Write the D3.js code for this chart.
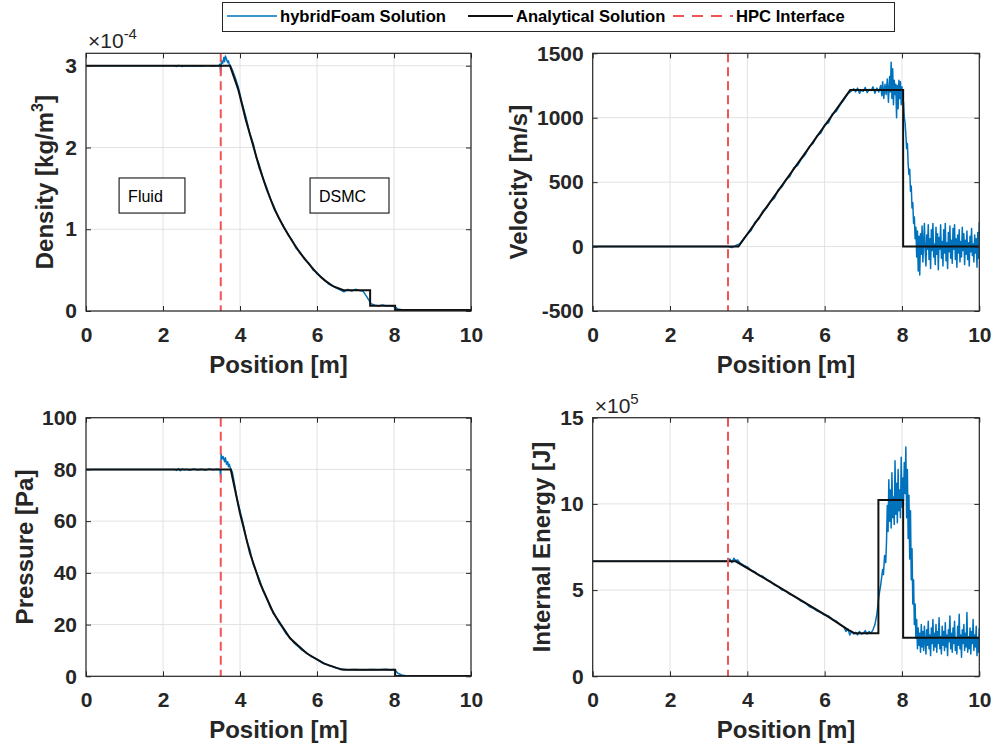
<!DOCTYPE html>
<html lang="en">
<head>
<meta charset="utf-8">
<title>Shock tube: hybridFoam vs analytical</title>
<script src="https://d3js.org/d3.v7.min.js"></script>
<style>
body { margin: 0; background: #fff; }
svg text { font-family: "Liberation Sans", Arial, Helvetica, sans-serif; fill: #262626; }
.tick text { font-size: 21px; font-weight: bold; fill: #262626; }
.tick line { stroke: #262626; }
.axis-label { font-size: 24px; font-weight: bold; }
.expo { font-size: 21px; }
.legend text { font-size: 16.6px; font-weight: bold; fill: #000; }
.note text { font-size: 16px; fill: #000; }
</style>
</head>
<body>
<script>
// x axis (shared)
var positionTicks = [0, 2, 4, 6, 8, 10];
var interfaceX = 3.5;

// density, units of 1e-4 kg/m^3
var densityTicks = [0, 1, 2, 3];
var densityAnalytical = [[0,3.0],[3.74,3.0],[3.96,2.70],[4.15,2.34],[4.35,2.01],[4.5,1.76],[4.7,1.48],[4.9,1.24],[5.13,1.03],[5.35,0.86],[5.56,0.71],[5.8,0.57],[6.0,0.46],[6.2,0.375],[6.43,0.30],[6.69,0.255],[7.38,0.255],[7.38,0.065],[8.03,0.065],[8.03,0.012],[10,0.012]];
var densityHybrid = [[0,3.0],[2.3,3.0],[2.35,2.99],[2.4,3.005],[2.45,2.995],[2.5,2.99],[2.55,3.0],[2.6,2.995],[2.7,3.0],[2.8,2.993],[2.9,3.0],[3.0,2.995],[3.1,3.0],[3.2,3.0],[3.3,2.995],[3.4,3.0],[3.45,3.0],[3.48,3.02],[3.5,2.9],[3.52,3.06],[3.55,3.03],[3.58,3.1],[3.6,3.05],[3.62,3.12],[3.65,3.08],[3.68,3.04],[3.7,3.06],[3.72,3.02],[3.75,3.0],[3.8,2.95],[3.88,2.85],[3.96,2.73],[4.05,2.55],[4.15,2.38],[4.25,2.18],[4.35,2.04],[4.42,1.88],[4.5,1.79],[4.6,1.62],[4.7,1.50],[4.8,1.36],[4.9,1.26],[5.0,1.14],[5.13,1.04],[5.25,0.93],[5.35,0.87],[5.45,0.77],[5.56,0.72],[5.68,0.63],[5.8,0.58],[5.9,0.50],[6.0,0.47],[6.1,0.41],[6.2,0.38],[6.3,0.33],[6.43,0.30],[6.5,0.28],[6.6,0.26],[6.7,0.235],[6.8,0.265],[6.9,0.245],[7.0,0.265],[7.1,0.25],[7.2,0.24],[7.3,0.17],[7.4,0.09],[7.5,0.07],[7.6,0.062],[7.7,0.074],[7.8,0.061],[7.9,0.06],[8.0,0.055],[8.05,0.04],[8.1,0.025],[8.2,0.015],[8.3,0.012],[9,0.012],[10,0.012]];

// velocity, m/s
var velocityTicks = [-500, 0, 500, 1000, 1500];
var velocityAnalytical = [[0,0],[3.77,0],[6.66,1215],[8.03,1215],[8.03,0],[10,0]];
var velocityHybrid = [[0,0],[3.5,0],[3.6,-8],[3.7,8],[3.8,20],[3.9,60],[4.0,95],[4.1,125],[4.2,190],[4.3,215],[4.4,275],[4.5,300],[4.6,350],[4.7,375],[4.8,440],[4.9,465],[5.0,520],[5.1,545],[5.2,610],[5.3,630],[5.4,680],[5.5,715],[5.6,775],[5.7,800],[5.8,860],[5.9,880],[6.0,945],[6.1,960],[6.2,1030],[6.3,1050],[6.4,1100],[6.5,1140],[6.6,1185],[6.7,1210],
[6.75,1225],[6.8,1200],[6.85,1230],[6.9,1190],[6.95,1215],[7.0,1205],[7.05,1235],[7.1,1195],[7.15,1220],[7.2,1210],[7.25,1240],[7.3,1190],[7.35,1230],[7.4,1200],[7.45,1250],[7.48,1170],[7.5,1280],[7.53,1150],[7.56,1260],[7.59,1180],[7.62,1300],[7.65,1120],[7.68,1320],[7.7,1200],[7.72,1430],[7.74,1150],[7.76,1380],[7.78,1100],[7.8,1290],[7.82,1180],[7.84,1260],[7.86,1000],[7.88,1250],[7.9,1070],[7.92,1290],[7.94,1150],[7.96,1280],[7.98,1100],[8.0,1240],[8.02,1150],
[8.04,1120],[8.06,1000],[8.08,960],[8.1,870],[8.12,760],[8.14,800],[8.16,640],[8.18,560],[8.2,600],[8.22,430],[8.24,470],[8.26,300],[8.28,340],[8.3,180],[8.32,230],[8.34,60],[8.36,150],[8.38,-80],[8.4,120],[8.42,-190],[8.44,80],[8.46,-220],[8.48,100],[8.5,-60],[8.52,160],[8.54,-120],[8.56,40],[8.58,180],[8.6,-40],
[8.62,-150],[8.64,90],[8.66,-20],[8.68,170],[8.7,-100],[8.72,60],[8.74,-170],[8.76,130],[8.78,-30],[8.8,180],[8.82,-80],[8.84,20],[8.86,-140],[8.88,150],[8.9,-60],[8.92,100],[8.94,-180],[8.96,70],[8.98,-20],[9.0,170],[9.02,-90],[9.04,40],[9.06,-150],[9.08,130],[9.1,-50],[9.12,180],[9.14,-110],[9.16,30],[9.18,-170],[9.2,110],[9.22,-40],[9.24,160],[9.26,-90],[9.28,50],[9.3,-130],[9.32,140],[9.34,-20],[9.36,170],[9.38,-100],[9.4,60],[9.42,-160],[9.44,90],[9.46,-50],[9.48,130],[9.5,-120],[9.52,40],[9.54,-80],[9.56,150],[9.58,-30],[9.6,100],[9.62,-140],[9.64,50],[9.66,-60],[9.68,120],[9.7,-100],[9.72,30],[9.74,-150],[9.76,80],[9.78,-40],[9.8,140],[9.82,-70],[9.84,20],[9.86,-120],[9.88,90],[9.9,-50],[9.92,60],[9.94,-160],[9.96,110],[9.98,-90],[10.0,190]];

// pressure, Pa
var pressureTicks = [0, 20, 40, 60, 80, 100];
var pressureAnalytical = [[0,80],[3.76,80],[4.0,63],[4.26,47.6],[4.52,36],[4.87,24.4],[5.3,14.7],[5.73,8.9],[6.17,5.0],[6.64,2.6],[6.7,2.5],[8.03,2.5],[8.03,0.1],[10,0.1]];
var pressureHybrid = [[0,80],[2.3,80],[2.35,79.6],[2.4,80.3],[2.45,79.5],[2.5,80.2],[2.55,79.8],[2.6,80.1],[2.7,79.7],[2.8,80.2],[2.9,79.8],[3.0,80.1],[3.1,79.7],[3.2,80.2],[3.3,79.9],[3.4,80.1],[3.48,80],[3.5,76.5],[3.51,86],[3.53,84],[3.56,85],[3.6,83],[3.62,84.5],[3.65,82],[3.68,83],[3.7,81],[3.72,82],[3.75,80.5],[3.8,79],[3.85,75],[3.92,69],[4.0,64],[4.1,58],[4.18,52],[4.26,48.8],[4.34,43.5],[4.42,40.5],[4.52,36.8],[4.6,33],[4.7,29.8],[4.8,26.2],[4.87,24.8],[5.0,21],[5.1,18.8],[5.2,16.4],[5.3,15.0],[5.4,12.9],[5.5,11.7],[5.6,10.2],[5.73,9.1],[5.85,7.6],[6.0,6.6],[6.17,5.2],[6.3,4.2],[6.4,3.8],[6.5,3.2],[6.64,2.8],[6.8,2.5],[7,2.6],[7.2,2.4],[7.4,2.6],[7.6,2.5],[7.8,2.7],[7.9,2.4],[8.0,2.6],[8.05,2.0],[8.1,1.2],[8.2,0.5],[8.3,0.2],[8.4,0.1],[10,0.1]];

// internal energy, units of 1e5 J
var energyTicks = [0, 5, 10, 15];
var energyAnalytical = [[0,6.67],[3.70,6.67],[4.37,5.78],[5.23,4.62],[6.09,3.46],[6.61,2.69],[6.78,2.49],[7.39,2.49],[7.39,10.23],[8.03,10.23],[8.03,2.24],[10,2.24]];
var energyHybrid = [[0,6.67],[3.5,6.67],[3.55,6.8],[3.6,6.6],[3.65,6.85],[3.7,6.7],[3.75,6.75],[3.8,6.6],[3.9,6.45],[4.0,6.35],[4.1,6.15],[4.2,6.05],[4.3,5.85],[4.4,5.8],[4.5,5.6],[4.6,5.5],[4.7,5.3],[4.8,5.2],[4.9,5.0],[5.0,4.95],[5.1,4.75],[5.2,4.65],[5.3,4.5],[5.4,4.35],[5.5,4.25],[5.6,4.05],[5.7,3.95],[5.8,3.8],[5.9,3.7],[6.0,3.55],[6.1,3.5],[6.2,3.3],[6.3,3.2],[6.4,3.0],[6.5,2.85],[6.55,2.6],[6.6,2.75],[6.65,2.4],[6.7,2.6],[6.75,2.45],[6.8,2.55],[6.85,2.4],[6.9,2.6],[6.95,2.45],[7.0,2.5],[7.05,2.65],[7.1,2.45],[7.15,2.6],[7.2,2.5],[7.25,2.7],[7.3,3.0],[7.35,3.6],[7.4,4.6],[7.45,5.3],[7.5,6.2],[7.52,5.9],[7.55,7.0],[7.58,6.6],[7.6,7.8],[7.62,9.9],[7.64,8.4],[7.66,11.4],[7.68,9.0],[7.7,10.8],[7.72,8.6],[7.74,11.8],[7.76,9.2],[7.78,10.4],[7.8,8.8],[7.82,12.5],[7.84,9.4],[7.86,11.2],[7.88,8.9],[7.9,12.0],[7.92,9.6],[7.94,10.8],[7.96,9.2],[7.98,12.7],[8.0,9.8],[8.02,11.5],[8.04,10.2],[8.06,12.4],[8.08,10.6],[8.1,13.3],[8.12,9.2],[8.14,12.0],[8.16,8.0],[8.18,10.5],[8.2,6.8],[8.22,9.6],[8.24,5.6],[8.26,7.4],[8.28,4.2],[8.3,5.6],[8.32,3.0],[8.34,4.2],[8.36,2.2],[8.38,3.3],[8.4,1.6],[8.42,2.8],[8.44,1.8],[8.46,2.5],[8.48,1.4],[8.5,3.0],
[8.52,1.7],[8.54,2.6],[8.56,1.5],[8.58,2.9],[8.6,2.0],[8.62,1.3],[8.64,2.7],[8.66,1.8],[8.68,3.2],[8.7,1.6],[8.72,2.4],[8.74,1.2],[8.76,2.8],[8.78,1.9],[8.8,3.3],[8.82,1.5],[8.84,2.5],[8.86,1.7],[8.88,3.0],[8.9,1.4],[8.92,2.6],[8.94,1.9],[8.96,3.4],[8.98,1.6],[9.0,2.3],[9.02,1.3],[9.04,2.9],[9.06,1.8],[9.08,2.6],[9.1,1.5],[9.12,3.1],[9.14,1.7],[9.16,2.4],[9.18,1.2],[9.2,2.7],[9.22,2.0],[9.24,3.5],[9.26,1.6],[9.28,2.5],[9.3,1.4],[9.32,2.8],[9.34,1.9],[9.36,3.2],[9.38,1.5],[9.4,2.2],[9.42,1.3],[9.44,2.9],[9.46,1.8],[9.48,3.6],[9.5,1.6],[9.52,2.4],[9.54,1.1],[9.56,2.7],[9.58,1.9],[9.6,3.0],[9.62,1.5],[9.64,2.5],[9.66,1.7],[9.68,3.7],[9.7,1.4],[9.72,2.3],[9.74,1.6],[9.76,2.8],[9.78,1.3],[9.8,2.6],[9.82,1.9],[9.84,3.3],[9.86,1.5],[9.88,2.4],[9.9,1.7],[9.92,2.9],[9.94,1.2],[9.96,2.2],[9.98,1.4],[10.0,2.8]];

var legendLabels = ["hybridFoam Solution", "Analytical Solution", "HPC Interface"];
var regionNotes = [{text: "Fluid", x0: 0.86, x1: 2.57}, {text: "DSMC", x0: 5.82, x1: 7.87}];

var blue = "#0072bd", red = "#f05454", dark = "#262626";

var panels = [
  {id: "density", left: 86, top: 53.3, right: 471, bottom: 311, yDomain: [0, 3.152], yTicks: densityTicks,
   label: ["Density [kg/m", "3", "]"], labelX: 53, expo: "-4", hybrid: densityHybrid, analytical: densityAnalytical},
  {id: "velocity", left: 592.7, top: 53.3, right: 979.3, bottom: 311, yDomain: [-500, 1500], yTicks: velocityTicks,
   label: ["Velocity [m/s]"], labelX: 527, hybrid: velocityHybrid, analytical: velocityAnalytical},
  {id: "pressure", left: 86, top: 417.7, right: 471, bottom: 676.3, yDomain: [0, 100], yTicks: pressureTicks,
   label: ["Pressure [Pa]"], labelX: 33, hybrid: pressureHybrid, analytical: pressureAnalytical},
  {id: "energy", left: 592.7, top: 417.7, right: 979.3, bottom: 676.3, yDomain: [0, 15], yTicks: energyTicks,
   label: ["Internal Energy [J]"], labelX: 550, expo: "5", hybrid: energyHybrid, analytical: energyAnalytical}
];

var plain = function(d) { return String(d); };

var svg = d3.select("body").append("svg")
    .attr("width", 995)
    .attr("height", 748);

svg.append("rect").attr("width", 995).attr("height", 748).attr("fill", "#fff");

panels.forEach(function(p) {
  var x = d3.scaleLinear().domain([0, 10]).range([p.left, p.right]);
  var y = d3.scaleLinear().domain(p.yDomain).range([p.bottom, p.top]);
  var g = svg.append("g").attr("class", p.id);

  g.append("clipPath").attr("id", "clip-" + p.id)
    .append("rect")
      .attr("x", p.left).attr("y", p.top)
      .attr("width", p.right - p.left).attr("height", p.bottom - p.top);

  // grid
  g.selectAll(".gx").data(positionTicks).enter().append("line")
      .attr("x1", function(d) { return x(d); }).attr("x2", function(d) { return x(d); })
      .attr("y1", p.top).attr("y2", p.bottom)
      .attr("stroke", "#e2e2e2").attr("stroke-width", 1);
  g.selectAll(".gy").data(p.yTicks).enter().append("line")
      .attr("y1", function(d) { return y(d); }).attr("y2", function(d) { return y(d); })
      .attr("x1", p.left).attr("x2", p.right)
      .attr("stroke", "#e2e2e2").attr("stroke-width", 1);

  var line = d3.line()
      .x(function(d) { return x(d[0]); })
      .y(function(d) { return y(d[1]); });

  var plot = g.append("g").attr("clip-path", "url(#clip-" + p.id + ")");

  plot.append("path")
      .datum(p.hybrid)
      .attr("d", line)
      .attr("fill", "none")
      .attr("stroke", blue)
      .attr("stroke-width", 1.5)
      .attr("stroke-linejoin", "round");

  plot.append("path")
      .datum(p.analytical)
      .attr("d", line)
      .attr("fill", "none")
      .attr("stroke", "#111")
      .attr("stroke-width", 2);

  plot.append("line")
      .attr("x1", x(interfaceX)).attr("x2", x(interfaceX))
      .attr("y1", p.top).attr("y2", p.bottom)
      .attr("stroke", red)
      .attr("stroke-width", 2)
      .attr("stroke-dasharray", "9,5");

  // axes, ticks pointing inward like MATLAB
  g.append("g")
      .attr("transform", "translate(0," + p.bottom + ")")
      .call(d3.axisBottom(x).tickValues(positionTicks).tickFormat(plain).tickSizeInner(-5).tickSizeOuter(0).tickPadding(16))
      .call(function(a) { a.select(".domain").remove(); });
  g.append("g")
      .attr("transform", "translate(0," + p.top + ")")
      .call(d3.axisTop(x).tickValues(positionTicks).tickSizeInner(-5).tickSizeOuter(0).tickFormat(""))
      .call(function(a) { a.select(".domain").remove(); });
  g.append("g")
      .attr("transform", "translate(" + p.left + ",0)")
      .call(d3.axisLeft(y).tickValues(p.yTicks).tickFormat(plain).tickSizeInner(-5).tickSizeOuter(0).tickPadding(9))
      .call(function(a) { a.select(".domain").remove(); });
  g.append("g")
      .attr("transform", "translate(" + p.right + ",0)")
      .call(d3.axisRight(y).tickValues(p.yTicks).tickSizeInner(-5).tickSizeOuter(0).tickFormat(""))
      .call(function(a) { a.select(".domain").remove(); });

  g.selectAll(".tick text").attr("font-family", null);

  g.append("rect")
      .attr("x", p.left).attr("y", p.top)
      .attr("width", p.right - p.left).attr("height", p.bottom - p.top)
      .attr("fill", "none").attr("stroke", dark).attr("stroke-width", 1.2);

  // x label
  g.append("text")
      .attr("class", "axis-label")
      .attr("x", (p.left + p.right) / 2)
      .attr("y", p.bottom + 62)
      .attr("text-anchor", "middle")
      .text("Position [m]");

  // y label
  var cy = (p.top + p.bottom) / 2;
  var yl = g.append("text")
      .attr("class", "axis-label")
      .attr("x", p.labelX).attr("y", cy)
      .attr("text-anchor", "middle")
      .attr("transform", "rotate(-90," + p.labelX + "," + cy + ")");
  yl.append("tspan").text(p.label[0]);
  if (p.label.length > 1) {
    yl.append("tspan").attr("dy", -10).attr("font-size", 16).text(p.label[1]);
    yl.append("tspan").attr("dy", 10).text(p.label[2]);
  }

  if (p.expo) {
    var ex = g.append("text")
        .attr("class", "expo")
        .attr("x", p.left + 2)
        .attr("y", p.top - 5);
    ex.append("tspan").text("\u00d710");
    ex.append("tspan").attr("dy", -9).attr("font-size", 15).text(p.expo);
  }

  if (p.id === "density") {
    var notes = g.selectAll(".note").data(regionNotes).enter().append("g").attr("class", "note");
    notes.append("rect")
        .attr("x", function(d) { return x(d.x0); })
        .attr("y", y(1.627))
        .attr("width", function(d) { return x(d.x1) - x(d.x0); })
        .attr("height", y(1.198) - y(1.627))
        .attr("fill", "#fff").attr("stroke", dark).attr("stroke-width", 1.2);
    notes.append("text")
        .attr("x", function(d) { return x(d.x0) + 9; })
        .attr("y", y(1.337))
        .text(function(d) { return d.text; });
  }
});

// legend
var legend = svg.append("g").attr("class", "legend");
legend.append("rect")
    .attr("x", 222.5).attr("y", 2.5).attr("width", 672).attr("height", 29)
    .attr("fill", "#fff").attr("stroke", dark).attr("stroke-width", 1);

var legendItems = [
  {label: legendLabels[0], x1: 227, x2: 277, color: blue, dash: null, w: 1.5},
  {label: legendLabels[1], x1: 468, x2: 513, color: "#111", dash: null, w: 2},
  {label: legendLabels[2], x1: 673, x2: 733, color: red, dash: "11,8", w: 2}
];
legendItems.forEach(function(d) {
  legend.append("line")
      .attr("x1", d.x1).attr("x2", d.x2)
      .attr("y1", 16).attr("y2", 16)
      .attr("stroke", d.color).attr("stroke-width", d.w)
      .attr("stroke-dasharray", d.dash);
  legend.append("text")
      .attr("x", d.x2 + 3).attr("y", 22)
      .text(d.label);
});
</script>
</body>
</html>
